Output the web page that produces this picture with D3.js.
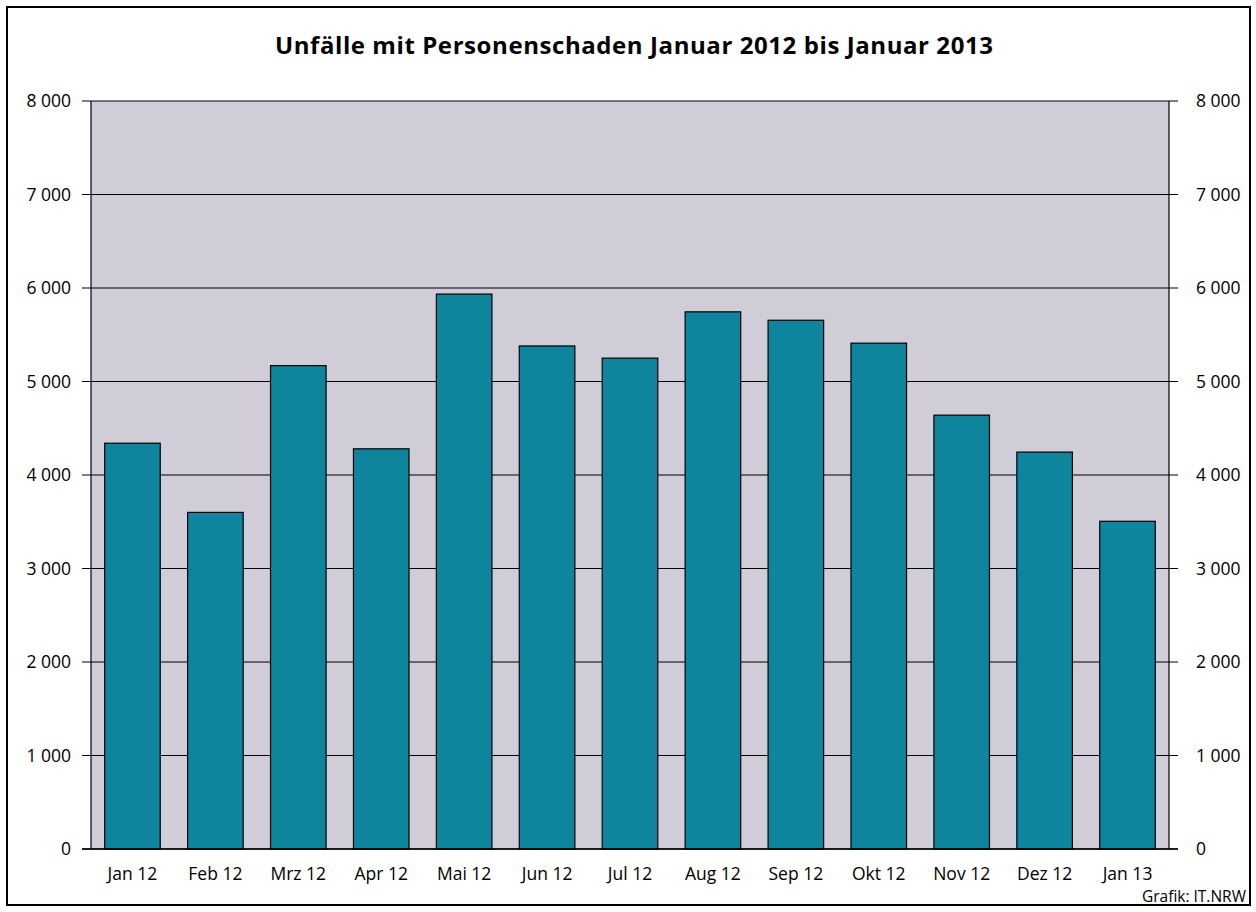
<!DOCTYPE html>
<html>
<head>
<meta charset="utf-8">
<script src="https://cdn.jsdelivr.net/npm/d3@7"></script>
<style>
body{margin:0;background:#fff;}
svg{display:block;font-family:"Open Sans","Noto Sans",sans-serif;}
</style>
</head>
<body>
<svg id="chart"></svg>
<script>
// monthly values
var months=["Jan 12","Feb 12","Mrz 12","Apr 12","Mai 12","Jun 12","Jul 12","Aug 12","Sep 12","Okt 12","Nov 12","Dez 12","Jan 13"]
var accidents=[4340,3600,5170,4280,5935,5380,5250,5745,5655,5410,4640,4245,3505]
var yTicks=[0,1000,2000,3000,4000,5000,6000,7000,8000]

var screen={width:1256,height:912}
var plot={left:91,right:1169,top:101,bottom:849}

var svg=d3.select("#chart")
    .attr("width",screen.width)
    .attr("height",screen.height)

// frame
svg.append("rect")
    .attr("x",7).attr("y",7)
    .attr("width",1243).attr("height",898)
    .attr("fill","none")
    .attr("stroke","#000")
    .attr("stroke-width",2)

svg.append("text")
    .attr("x",634).attr("y",54)
    .attr("text-anchor","middle")
    .attr("font-size",24)
    .attr("font-weight","bold")
    .attr("textLength",718)
    .text("Unfälle mit Personenschaden Januar 2012 bis Januar 2013")

var xScale=d3.scaleBand()
    .domain(months)
    .range([plot.left,plot.right])
    .paddingInner(0.33)
    .paddingOuter(0.165)
var yScale=d3.scaleLinear()
    .domain([0,8000])
    .range([plot.bottom,plot.top])

svg.append("rect")
    .attr("x",plot.left).attr("y",plot.top)
    .attr("width",plot.right-plot.left)
    .attr("height",plot.bottom-plot.top)
    .attr("fill","#d0cdd8")

var fmtSp=function(v){return v==0?"0":d3.format(",")(v).replace(","," ")}

// gridlines with ticks on both sides
svg.selectAll("line.grid")
    .data(yTicks)
    .enter()
    .append("line")
    .attr("class","grid")
    .attr("x1",plot.left-9)
    .attr("x2",plot.right+9)
    .attr("y1",function(d){return yScale(d)})
    .attr("y2",function(d){return yScale(d)})
    .attr("stroke","#000")
    .attr("stroke-width",1.2)

svg.append("line")
    .attr("x1",plot.left).attr("x2",plot.left)
    .attr("y1",plot.top).attr("y2",plot.bottom)
    .attr("stroke","#000").attr("stroke-width",1.2)
svg.append("line")
    .attr("x1",plot.right).attr("x2",plot.right)
    .attr("y1",plot.top).attr("y2",plot.bottom)
    .attr("stroke","#000").attr("stroke-width",1.2)

svg.selectAll("rect.bar")
    .data(accidents)
    .enter()
    .append("rect")
    .attr("class","bar")
    .attr("x",function(d,i){return xScale(months[i])})
    .attr("y",function(d){return yScale(d)})
    .attr("width",xScale.bandwidth())
    .attr("height",function(d){return plot.bottom-yScale(d)})
    .attr("fill","#0e849d")
    .attr("stroke","#000")
    .attr("stroke-width",1.2)

svg.append("line")
    .attr("x1",plot.left-9).attr("x2",plot.right+9)
    .attr("y1",plot.bottom).attr("y2",plot.bottom)
    .attr("stroke","#000").attr("stroke-width",1.5)

svg.selectAll("text.yl")
    .data(yTicks)
    .enter()
    .append("text")
    .attr("class","yl")
    .attr("x",71)
    .attr("y",function(d){return yScale(d)+6})
    .attr("text-anchor","end")
    .attr("font-size",17.5)
    .text(fmtSp)

svg.selectAll("text.yr")
    .data(yTicks)
    .enter()
    .append("text")
    .attr("class","yr")
    .attr("x",1196)
    .attr("y",function(d){return yScale(d)+6})
    .attr("text-anchor","start")
    .attr("font-size",17.5)
    .text(fmtSp)

svg.selectAll("text.xl")
    .data(months)
    .enter()
    .append("text")
    .attr("class","xl")
    .attr("x",function(d){return xScale(d)+xScale.bandwidth()/2})
    .attr("y",880)
    .attr("text-anchor","middle")
    .attr("font-size",17.5)
    .text(function(d){return d})

svg.append("text")
    .attr("x",1246).attr("y",902)
    .attr("text-anchor","end")
    .attr("font-size",15.5)
    .text("Grafik: IT.NRW")
</script>
</body>
</html>
